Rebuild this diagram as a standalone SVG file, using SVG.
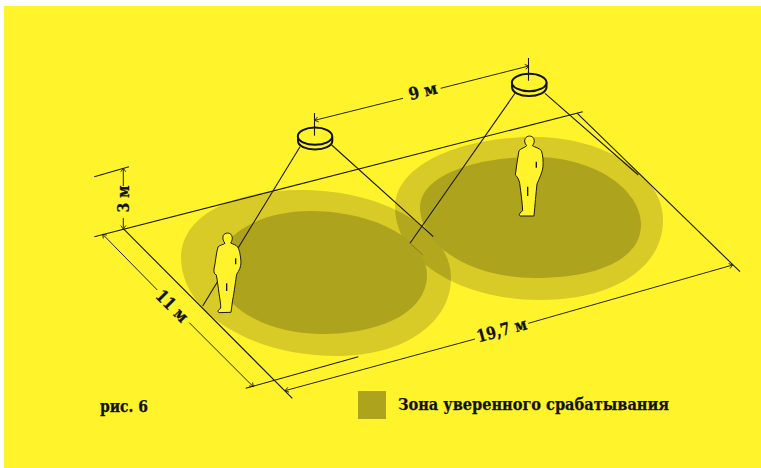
<svg xmlns="http://www.w3.org/2000/svg" width="761" height="468" viewBox="0 0 761 468">
<style>
.ln{fill:none;stroke:#1c1a05;stroke-width:1.1}
.dim{fill:none;stroke:#2a2706;stroke-width:1;marker-end:url(#a)}
.o{fill:#D8CB27}.i{fill:#AEA31D}
.fig{fill:#FFF32B;stroke:#1c1a05;stroke-width:3;stroke-linejoin:round}
.mk{fill:none;stroke:#1c1a05;stroke-width:4}
.sn{fill:#FFF32B;stroke:#111;stroke-width:2}
.t{font-family:"DejaVu Serif Condensed","DejaVu Serif",serif;font-weight:700;fill:#111;stroke:#111;stroke-width:.25;font-stretch:condensed}
</style>
<defs>
<marker id="a" markerUnits="userSpaceOnUse" markerWidth="8" markerHeight="8" refX="5" refY="4" orient="auto" viewBox="0 0 8 8"><path d="M1.500 1.500L5 4L1.500 6.500" fill="none" stroke="#2a2706" stroke-width=".9"/></marker>
<clipPath id="c"><path d="M181 257C181 215 235 190 300 190C385 190 451 230 451 278C451 322 405 356 337 356C255 356 181 315 181 257Z"/></clipPath>
</defs>
<rect width="761" height="468" fill="#fff"/>
<rect x="4" y="6" width="757" height="462" fill="#FFF32B"/>
<g id="zones">
<path class="o" d="M181 257C181 215 235 190 300 190C385 190 451 230 451 278C451 322 405 356 337 356C255 356 181 315 181 257Z"/>
<path class="o" d="M395 207C395 165 460 137 535 137C605 137 663 175 663 220C663 270 610 300 540 300C460 300 395 260 395 207Z"/>
<path class="i" d="M395 207C395 165 460 137 535 137C605 137 663 175 663 220C663 270 610 300 540 300C460 300 395 260 395 207Z" clip-path="url(#c)" opacity=".9"/>
<path class="i" d="M217 270C217 235 260 211 310 211C375 211 427 240 427 275C427 310 385 334 320 334C265 334 217 305 217 270Z"/>
<path class="i" d="M420 207C420 178 470 157 535 157C595 157 641 190 641 225C641 258 600 278 535 278C470 278 420 245 420 207Z"/>
</g>
<g id="connectors">
<path class="ln" d="M94.300 236.700L582.700 111.700M123.300 228.700L292.300 398.300M245.700 388.300L358.300 356.700M577.300 113.300L740 271.700"/>
<path class="ln" d="M545 93.300L638.300 175M331.700 145L433.300 236.700M300 146.700L202.700 306M515 93.300L410 243.300"/>
<path d="M410 243.300L423 255" fill="none" stroke="#8a7f18" stroke-width="1"/>
<path class="ln" d="M94.300 176.700L129 166.700"/>
<path class="dim" d="M403 98.300L314.700 120.300"/>
<path class="dim" d="M440.700 88.300L528.700 66"/>
<path class="dim" d="M123.300 186V168.300"/>
<path class="dim" d="M123.300 218V229"/>
<path class="dim" d="M157.300 290L102.700 234.300"/>
<path class="dim" d="M189.300 322.700L253.300 386.700"/>
<path class="dim" d="M475 339L285 390.700"/>
<path class="dim" d="M528.300 323.300L732.700 265"/>
</g>
<g id="sensor-1">
<path class="sn" d="M298 136.500V141C298 146 306 149.500 315 149.500S332.300 146 332.300 141V136.500"/>
<ellipse class="sn" cx="315" cy="136.200" rx="17.200" ry="8.600"/>
<path class="ln" d="M314.500 113V135.700"/>
</g>
<g id="sensor-2">
<path class="sn" d="M512 82.500V87C512 92.500 520 96 529 96S546.500 92.500 546.500 87V82.500"/>
<ellipse class="sn" cx="529.200" cy="82.500" rx="17.300" ry="8.800"/>
<path class="ln" d="M528.500 58V80.700"/>
</g>
<g id="person-1" transform="translate(195 225) scale(.3333)">
<path class="fig" d="M90 55C84 48 82 38 85 31C90 22 105 22 110 31C114 40 111 48 107 54C115 58 124 60 128 66C134 75 137 95 138 112C138 125 133 136 125 148C122 165 118 200 113 225L108 262L72 263C66 260 70 254 77 250C78 240 75 225 72 205C69 185 67 165 64 150C58 148 56 142 57 132C62 112 63 85 69 66C74 60 84 60 90 55Z"/>
<path class="mk" d="M122 100V118M95 175V198"/>
</g>
<g id="person-2" transform="translate(500 130) scale(.3333)">
<path class="fig" d="M80 47C74 40 72 32 76 25C81 16 96 16 101 25C105 33 102 42 97 47C105 52 118 54 124 62C129 75 130 95 129 110C128 125 118 145 111 162C108 190 105 225 102 258L60 258C54 255 60 248 68 242C67 220 63 190 59 160C57 150 53 140 46 135C49 110 53 85 57 62C64 54 74 54 80 47Z"/>
<path class="mk" d="M109 95V113M83 170V198"/>
</g>
<g id="labels">
<text class="t" font-size="17" transform="translate(423 92) rotate(-14)" text-anchor="middle" y="5" textLength="29" lengthAdjust="spacingAndGlyphs">9 м</text>
<text class="t" font-size="17" transform="translate(123 199) rotate(-90)" text-anchor="middle" y="6" textLength="27" lengthAdjust="spacingAndGlyphs">3 м</text>
<text class="t" font-size="17" transform="translate(172.300 306) rotate(45)" text-anchor="middle" y="6" textLength="38" lengthAdjust="spacingAndGlyphs">11 м</text>
<text class="t" font-size="17" transform="translate(501.700 330) rotate(-15)" text-anchor="middle" y="6" textLength="51" lengthAdjust="spacingAndGlyphs">19,7 м</text>
<text class="t" font-size="16" x="100" y="412" textLength="48" lengthAdjust="spacingAndGlyphs">рис. 6</text>
</g>
<g id="legend">
<rect class="i" x="358" y="391" width="28" height="28"/>
<text class="t" font-size="17" x="398" y="410" textLength="271" lengthAdjust="spacingAndGlyphs">Зона уверенного срабатывания</text>
</g>
</svg>
